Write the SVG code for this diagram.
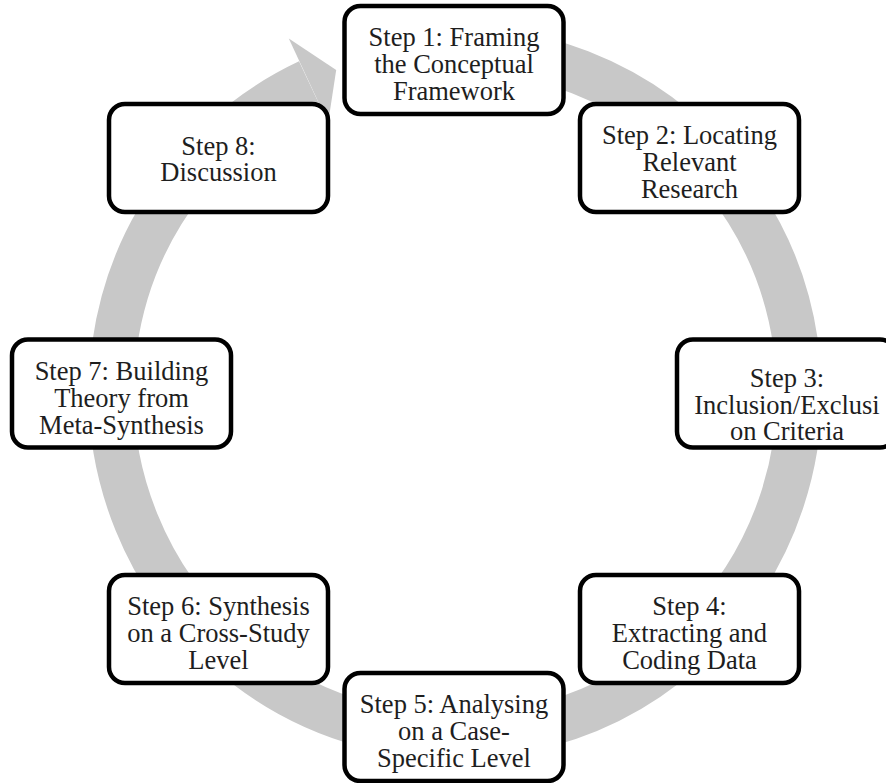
<svg xmlns="http://www.w3.org/2000/svg" width="886" height="783" viewBox="0 0 886 783">
  <style>
    .box { fill: #ffffff; stroke: #000000; stroke-width: 4.5; }
    .lbl { font-family: "Liberation Serif", "Times New Roman", serif; font-size: 26.5px; fill: #1e1e1e; text-anchor: middle; }
    .ring { fill: none; stroke: #c8c8c8; stroke-width: 45; }
    .head { fill: #c8c8c8; }
  </style>
  <rect width="886" height="783" fill="#ffffff"/>
  <g id="connectors">
    <path class="ring" d="M 424 50.3 A 344 344 0 1 1 308.6 81.7"/>
    <polygon class="head" points="288.8,38.6 336.2,70 328.1,122.9"/>
  </g>
  <g id="step1">
    <rect class="box" x="344.5" y="6" width="219" height="108" rx="16"/>
    <text class="lbl" x="454" y="46.3">Step 1: Framing</text>
    <text class="lbl" x="454" y="73">the Conceptual</text>
    <text class="lbl" x="454" y="99.7">Framework</text>
  </g>
  <g id="step2">
    <rect class="box" x="580" y="104" width="219" height="108" rx="16"/>
    <text class="lbl" x="689.5" y="144.3">Step 2: Locating</text>
    <text class="lbl" x="689.5" y="171">Relevant</text>
    <text class="lbl" x="689.5" y="197.7">Research</text>
  </g>
  <g id="step3">
    <rect class="box" x="677" y="339.5" width="219" height="108" rx="16"/>
    <text class="lbl" x="787" y="386.8">Step 3:</text>
    <text class="lbl" x="787" y="413.5">Inclusion/Exclusi</text>
    <text class="lbl" x="787" y="440.2">on Criteria</text>
  </g>
  <g id="step4">
    <rect class="box" x="580" y="575" width="219" height="108" rx="16"/>
    <text class="lbl" x="689.5" y="615.3">Step 4:</text>
    <text class="lbl" x="689.5" y="642">Extracting and</text>
    <text class="lbl" x="689.5" y="668.7">Coding Data</text>
  </g>
  <g id="step5">
    <rect class="box" x="344.5" y="673" width="219" height="108" rx="16"/>
    <text class="lbl" x="454" y="713.3">Step 5: Analysing</text>
    <text class="lbl" x="454" y="740">on a Case-</text>
    <text class="lbl" x="454" y="766.7">Specific Level</text>
  </g>
  <g id="step6">
    <rect class="box" x="109" y="575" width="219" height="108" rx="16"/>
    <text class="lbl" x="218.5" y="615.3">Step 6: Synthesis</text>
    <text class="lbl" x="218.5" y="642">on a Cross-Study</text>
    <text class="lbl" x="218.5" y="668.7">Level</text>
  </g>
  <g id="step7">
    <rect class="box" x="12" y="339.5" width="219" height="108" rx="16"/>
    <text class="lbl" x="121.5" y="380.3">Step 7: Building</text>
    <text class="lbl" x="121.5" y="407">Theory from</text>
    <text class="lbl" x="121.5" y="433.7">Meta-Synthesis</text>
  </g>
  <g id="step8">
    <rect class="box" x="109" y="104" width="219" height="108" rx="16"/>
    <text class="lbl" x="218.5" y="154.7">Step 8:</text>
    <text class="lbl" x="218.5" y="181.4">Discussion</text>
  </g>
</svg>
